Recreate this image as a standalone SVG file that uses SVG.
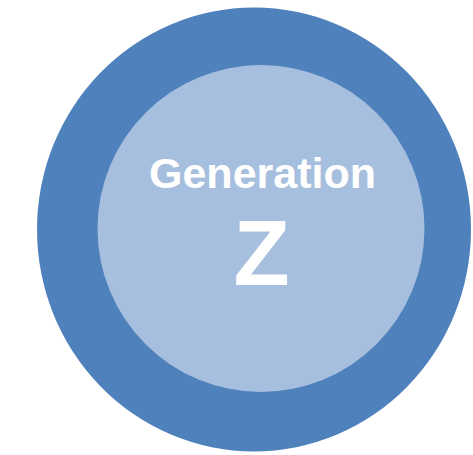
<svg xmlns="http://www.w3.org/2000/svg" width="473" height="455" viewBox="0 0 473 455">
<style>
.lbl{fill:#ffffff;font-family:"Liberation Sans",Arial,sans-serif;font-weight:bold;text-anchor:middle}
</style>
<rect width="473" height="455" fill="#ffffff"/>
<g id="outer">
<ellipse cx="254" cy="229.5" rx="217" ry="222" fill="#4F81BD"/>
</g>
<g id="inner">
<circle cx="261" cy="228.5" r="163.5" fill="#A7BFDE"/>
<text class="lbl" x="262.5" y="188" font-size="43">Generation</text>
<text class="lbl" x="261.5" y="285" font-size="92">Z</text>
</g>
</svg>
